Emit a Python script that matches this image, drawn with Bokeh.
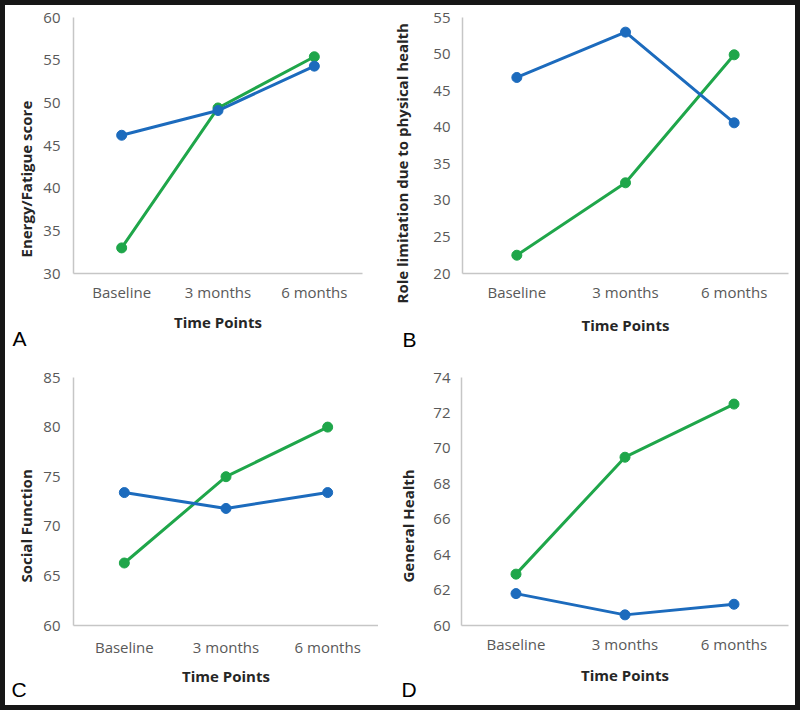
from bokeh.plotting import figure
from bokeh.layouts import row, column
from bokeh.models import Range1d, FactorRange, FixedTicker, Title, Spacer
from bokeh.embed import file_html
from bokeh.resources import INLINE

# ---------------- data ----------------
categories = ["Baseline", "3 months", "6 months"]
tick_labels_abc = ["Baseline", "3 months", "6 months"]
tick_labels_d = ["Baseline\u00b7", "3 months", "6 months"]

energy_blue = [46.2, 49.1, 54.3]
energy_green = [33.0, 49.4, 55.4]
role_blue = [46.8, 53.0, 40.6]
role_green = [22.5, 32.4, 49.9]
social_blue = [73.4, 71.8, 73.4]
social_green = [66.3, 75.0, 80.0]
general_blue = [61.8, 60.6, 61.2]
general_green = [62.9, 69.5, 72.5]

energy_ticks = [30, 35, 40, 45, 50, 55, 60]
role_ticks = [20, 25, 30, 35, 40, 45, 50, 55]
social_ticks = [60, 65, 70, 75, 80, 85]
general_ticks = [60, 62, 64, 66, 68, 70, 72, 74]

y_titles = ["Energy/Fatigue score", "Role limitation  due to physical health",
            "Social Function", "General Health"]
x_title = "Time Points"
panel_letters = ["A", "B", "C", "D"]

BLUE = "#1c6bbd"
GREEN = "#1fa64a"
AXIS = "#c6c6c6"
TICK_TXT = "#595959"
LAB_TXT = "#262626"
FRAME = "#161616"
FONT = "Open Sans"


def make_panel(blue, green, ticks, tick_labels, ytitle, letter,
               width, height, ml, mr, mt, mb,
               ytitle_offset, ytitle_standoff, letter_offset, letter_standoff,
               y_standoff, x_standoff, xlab_standoff):
    p = figure(x_range=FactorRange(*categories),
               y_range=Range1d(ticks[0], ticks[-1]),
               width=width, height=height,
               min_border_left=ml, min_border_right=mr,
               min_border_top=mt, min_border_bottom=mb,
               output_backend="svg", toolbar_location=None,
               background_fill_color="white", border_fill_color="white",
               outline_line_color=None)
    p.xgrid.visible = False
    p.ygrid.visible = False

    p.line(categories, green, line_color=GREEN, line_width=3)
    p.scatter(categories, green, size=10, fill_color=GREEN, line_color=GREEN)
    p.line(categories, blue, line_color=BLUE, line_width=3)
    p.scatter(categories, blue, size=10, fill_color=BLUE, line_color=BLUE)

    for ax in (p.xaxis[0], p.yaxis[0]):
        ax.major_tick_line_color = None
        ax.minor_tick_line_color = None
        ax.major_tick_out = 0
        ax.major_tick_in = 0
        ax.minor_tick_out = 0
        ax.minor_tick_in = 0
        ax.axis_line_color = AXIS
        ax.axis_line_width = 1.5
        ax.major_label_text_font = FONT
        ax.major_label_text_font_size = "15px"
        ax.major_label_text_color = TICK_TXT

    ya = p.yaxis[0]
    ya.ticker = FixedTicker(ticks=ticks)
    ya.major_label_standoff = y_standoff

    xa = p.xaxis[0]
    xa.major_label_standoff = x_standoff
    xa.major_label_overrides = dict(zip(categories, tick_labels))
    xa.axis_label = x_title
    xa.axis_label_text_font = FONT
    xa.axis_label_text_font_size = "15px"
    xa.axis_label_text_font_style = "bold"
    xa.axis_label_text_color = LAB_TXT
    xa.axis_label_standoff = xlab_standoff

    p.add_layout(Title(text=ytitle, align="left", offset=ytitle_offset,
                       standoff=ytitle_standoff, vertical_align="bottom",
                       text_font=FONT, text_font_style="bold",
                       text_font_size="15px", text_color=LAB_TXT), "left")
    p.add_layout(Title(text=letter, align="left", offset=letter_offset,
                       standoff=letter_standoff, vertical_align="top",
                       text_font="Liberation Sans", text_font_style="normal",
                       text_font_size="21px", text_color="black"), "below")
    return p


pA = make_panel(energy_blue, energy_green, energy_ticks, tick_labels_abc, y_titles[0],
                panel_letters[0], 361, 350, 68, 4, 12, 82,
                16, 10, -61, -15, 13, 8, 7)
pB = make_panel(role_blue, role_green, role_ticks, tick_labels_abc, y_titles[1],
                panel_letters[1], 429, 350, 96, 7, 12, 82,
                -30, 38, -60, -20, 12, 8, 10)
pC = make_panel(social_blue, social_green, social_ticks, tick_labels_abc, y_titles[2],
                panel_letters[2], 373, 350, 68, 0, 22, 80,
                43, 10, -62, -22, 13, 11, 6)
pD = make_panel(general_blue, general_green, general_ticks, tick_labels_d, y_titles[3],
                panel_letters[3], 417, 350, 83, 7, 22, 80,
                43, 26, -60, -20, 11, 8, 8)

band = {"background-color": FRAME}
inner = column(row(pA, pB), row(pC, pD))
layout = column(
    Spacer(width=800, height=5, styles=band),
    row(Spacer(width=5, height=700, styles=band), inner,
        Spacer(width=5, height=700, styles=band)),
    Spacer(width=800, height=5, styles=band),
)

open("out.html", "w").write(file_html(layout, INLINE))
